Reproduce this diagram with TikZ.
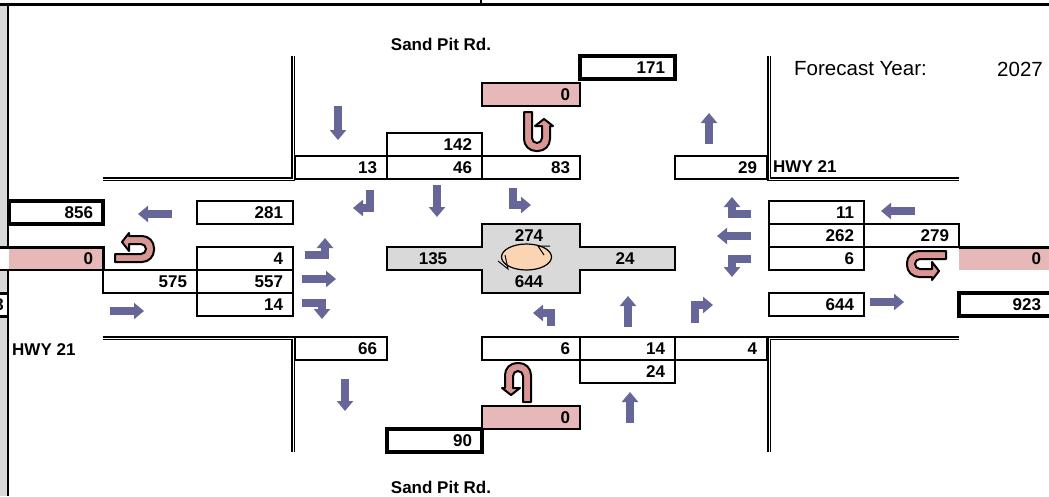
\documentclass[tikz,border=0pt]{standalone}
\usepackage{fontspec}
\setmainfont{Liberation Sans}
\usetikzlibrary{arrows.meta}
\definecolor{flowblue}{HTML}{666699}
\definecolor{uturnpink}{HTML}{DA9694}
\definecolor{cellpink}{HTML}{E6B8B7}
\definecolor{cellgray}{HTML}{D9D9D9}
\definecolor{ovalpeach}{HTML}{FBD4B4}
\tikzset{
	bold/.style={font=\bfseries\fontsize{17}{17}\selectfont, inner sep=0pt},
	plain/.style={font=\fontsize{20.5}{20.5}\selectfont, inner sep=0pt},
	cell/.style={draw, line width=2pt, anchor=north west, outer sep=0pt, minimum height=23pt, inner xsep=10pt, inner ysep=0pt, align=right, font=\bfseries\fontsize{17}{17}\selectfont},
	flow/.style={draw=flowblue, line width=8.5pt, -{Triangle[length=10pt,width=16pt]}},
	road/.style={draw, line width=1.8pt, double, double distance=1pt},
	uturn/.pic={
		\draw[fill=uturnpink, line width=2pt, line join=round] (-13,-19) [rounded corners=12pt] -- (-13,20) -- (13,20) [sharp corners] -- (13,-5) -- (16,-5) -- (7,-12) -- (-2,-5) -- (5,-5) [rounded corners=5pt] -- (5,12) -- (-5,12) [sharp corners] -- (-5,-19) -- cycle;
	}
}
\begin{document}
\begin{tikzpicture}[x=1pt, y=-1pt]
	\useasboundingbox (0,0) rectangle (1049,496);
	\fill[cellgray] (0,4) rectangle (8,247);
	\fill[cellgray] (0,270) rectangle (8,293);
	\fill[cellgray] (0,316) rectangle (8,496);
	\draw[line width=2pt] (8,4) -- (8,247);
	\draw[line width=2pt] (8,270) -- (8,496);
	\draw[line width=2.7pt] (0,4.5) -- (1049,4.5);
	\draw[line width=1.5pt] (481,0) -- (481,4);
	\draw[road] (103,179) -- (293,179) -- (293,56);
	\draw[road] (769,56) -- (769,179) -- (959,179);
	\draw[road] (103,338) -- (293,338) -- (293,452);
	\draw[road] (769,452) -- (769,338) -- (959,338);
	\draw[fill=cellgray, line width=2pt] (387,247) -- (482,247) -- (482,224) -- (580,224) -- (580,247) -- (675,247) -- (675,270) -- (580,270) -- (580,293) -- (482,293) -- (482,270) -- (387,270) -- cycle;
	\foreach \name/\x/\y/\w in {pinkB/9/247/94, pinkC/959/247/92}
		\node[cell, draw=none, fill=cellpink, minimum width=\w pt, text width=\w pt-20pt] (\name) at (\x,\y) {0};
	\foreach \name/\x/\y/\w/\v in {cellA/295/156/92/13, cellB/387/133/95/142, cellC/387/156/95/46, cellD/482/156/98/83, cellE/675/156/92/29, cellF/197/201/96/281, cellG/197/247/96/4, cellH/197/270/96/557, cellI/103/270/94/575, cellJ/197/293/96/14, cellK/769/201/95/11, cellL/769/224/95/262, cellM/864/224/95/279, cellN/769/247/95/6, cellO/769/293/95/644, cellP/295/337/92/66, cellQ/482/337/98/6, cellR/580/337/95/14, cellS/675/337/92/4, cellT/580/360/95/24}
		\node[cell, minimum width=\w pt, text width=\w pt-20pt] (\name) at (\x,\y) {\v};
	\foreach \name/\x/\y/\w/\v in {thickA/580/56/95/171, thickB/9/201/94/856, thickC/959/293/92/923, thickD/387/429/95/90}
		\node[cell, line width=3.5pt, minimum width=\w pt, text width=\w pt-20pt] (\name) at (\x,\y) {\v};
	\foreach \name/\x/\y/\w in {pinkA/482/83/98, pinkD/482/406/98}
		\node[cell, line width=2.5pt, fill=cellpink, minimum width=\w pt, text width=\w pt-20pt] (\name) at (\x,\y) {0};
	\draw[line width=3pt] (0,247) -- (pinkB.north east) -- (pinkB.south east);
	\draw[line width=2pt] (0,270) -- (pinkB.south east);
	\draw[line width=3pt] (pinkC.north west) -- (1049,247);
	\draw[line width=3pt] (0,293) -- (8,293);
	\draw[line width=3pt] (0,316) -- (8,316);
	\node[bold, anchor=east] (cutcell) at (4,305) {3};
	\foreach \tail/\head in {{338,106}/{338,140}, {437,185}/{437,217}, {709,144}/{709,113}, {172,214}/{138,214}, {302,279}/{336,279}, {110,311}/{144,311}, {345,379}/{345,411}, {628,327}/{628,296}, {630,423}/{630,392}, {915,211}/{881,211}, {751,236}/{717,236}, {870,302}/{904,302}}
		\draw[flow] (\tail) -- (\head);
	\foreach \tail/\bend/\head in {{751,214}/{732,214}/{732,197}, {751,259}/{732,259}/{732,277}, {695,323}/{695,305}/{713,305}, {305,255}/{325,255}/{325,238}, {302,303}/{322,303}/{322,319}, {370,190}/{370,208}/{353,208}, {513,188}/{513,205}/{531,205}, {551,326}/{551,313}/{533,313}}
		\draw[flow] (\tail) -- (\bend) -- (\head);
	\pic at (537,131) {uturn};
	\pic[rotate=-90] at (927,264) {uturn};
	\pic[rotate=90] at (134,249) {uturn};
	\pic[rotate=180] at (518,383) {uturn};
	\draw[fill=ovalpeach, line width=1.2pt] (526.5,257) ellipse (25pt and 13pt);
	\draw[line width=1pt] (550,246) -- (538,246) -- (544,255);
	\draw[line width=1pt] (498,261) -- (508,269) -- (505,255);
	\node[bold] (vol_n) at (529,236) {274};
	\node[bold] (vol_s) at (529,282) {644};
	\node[bold] (vol_w) at (433,259) {135};
	\node[bold] (vol_e) at (625,259) {24};
	\node[bold] (road_n) at (441,44) {Sand Pit Rd.};
	\node[bold] (road_s) at (441,487) {Sand Pit Rd.};
	\node[bold, anchor=west] (road_w) at (12,350) {HWY 21};
	\node[bold, anchor=west] (road_e) at (773,167) {HWY 21};
	\node[plain, anchor=west] (yearlabel) at (794,69) {Forecast Year:};
	\node[plain, anchor=east] (yearvalue) at (1043,69) {2027};
\end{tikzpicture}
\end{document}
